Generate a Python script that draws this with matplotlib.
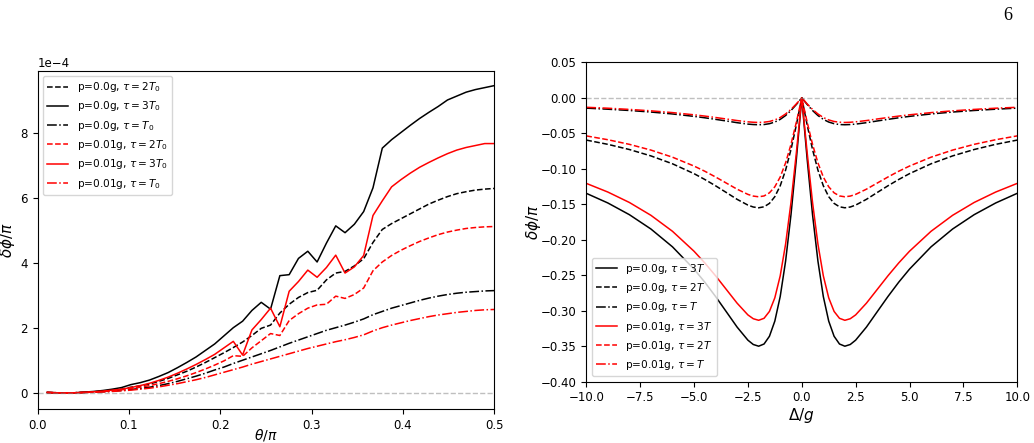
import numpy as np
import matplotlib
matplotlib.use("Agg")
import matplotlib.pyplot as plt

# ---- left panel: phase shift vs theta (units of 1e-4) ----
theta = np.linspace(0, 0.5, 50)[1:]

p0_2T0 = [0.01, 0.0, -0.01, 0.0, 0.01, 0.03, 0.05, 0.08, 0.11, 0.17,
          0.21, 0.27, 0.35, 0.44, 0.55, 0.66, 0.79, 0.93, 1.08, 1.23,
          1.39, 1.56, 1.76, 1.98, 2.08, 2.45, 2.72, 2.93, 3.08, 3.15,
          3.47, 3.68, 3.73, 3.90, 4.12, 4.62, 5.02, 5.20, 5.35, 5.50,
          5.65, 5.80, 5.92, 6.03, 6.12, 6.18, 6.23, 6.26, 6.28]
p0_3T0 = [0.01, 0.0, -0.01, 0.0, 0.02, 0.04, 0.07, 0.11, 0.16, 0.25,
          0.31, 0.39, 0.50, 0.62, 0.77, 0.93, 1.10, 1.30, 1.50, 1.75,
          2.00, 2.20, 2.53, 2.78, 2.57, 3.60, 3.63, 4.13, 4.35, 4.02,
          4.60, 5.13, 4.92, 5.18, 5.57, 6.30, 7.52, 7.78, 8.00, 8.22,
          8.43, 8.62, 8.80, 9.00, 9.12, 9.24, 9.32, 9.38, 9.44]
p0_T0 = [0.005, 0.0, -0.005, 0.0, 0.01, 0.02, 0.03, 0.05, 0.07, 0.10,
         0.13, 0.17, 0.22, 0.28, 0.35, 0.43, 0.51, 0.60, 0.70, 0.79,
         0.90, 1.00, 1.10, 1.20, 1.30, 1.41, 1.52, 1.62, 1.72, 1.82,
         1.92, 2.00, 2.08, 2.17, 2.27, 2.40, 2.50, 2.60, 2.68, 2.76,
         2.84, 2.91, 2.97, 3.02, 3.06, 3.09, 3.11, 3.13, 3.14]
p1_2T0 = [0.01, 0.0, -0.01, 0.0, 0.01, 0.02, 0.04, 0.06, 0.09, 0.13,
          0.17, 0.22, 0.28, 0.35, 0.43, 0.52, 0.62, 0.73, 0.85, 0.98,
          1.14, 1.12, 1.38, 1.60, 1.82, 1.76, 2.22, 2.43, 2.60, 2.70,
          2.72, 2.97, 2.90, 3.02, 3.22, 3.75, 4.02, 4.22, 4.38, 4.52,
          4.65, 4.76, 4.86, 4.94, 5.00, 5.05, 5.08, 5.10, 5.11]
p1_3T0 = [0.01, 0.0, -0.01, 0.0, 0.01, 0.03, 0.05, 0.08, 0.11, 0.16,
          0.22, 0.29, 0.38, 0.48, 0.60, 0.73, 0.87, 1.02, 1.18, 1.38,
          1.58, 1.16, 1.93, 2.25, 2.60, 2.03, 3.12, 3.42, 3.77, 3.55,
          3.85, 4.23, 3.68, 3.87, 4.22, 5.45, 5.90, 6.33, 6.55, 6.75,
          6.93, 7.08, 7.22, 7.35, 7.46, 7.54, 7.60, 7.66, 7.66]
p1_T0 = [0.005, 0.0, -0.005, 0.0, 0.01, 0.015, 0.025, 0.04, 0.06, 0.08,
         0.11, 0.14, 0.18, 0.23, 0.28, 0.34, 0.40, 0.47, 0.55, 0.63,
         0.71, 0.79, 0.88, 0.96, 1.04, 1.12, 1.20, 1.28, 1.36, 1.43,
         1.50, 1.57, 1.63, 1.70, 1.78, 1.90, 2.00, 2.08, 2.15, 2.22,
         2.28, 2.34, 2.39, 2.43, 2.47, 2.50, 2.53, 2.55, 2.56]

# ---- right panel: phase shift vs detuning (Delta >= 0 half, curves are symmetric) ----
d_half = [0, 0.25, 0.5, 0.75, 1, 1.25, 1.5, 1.75, 2, 2.25, 2.5, 3, 3.5, 4,
          4.5, 5, 6, 7, 8, 9, 10]
b_3T = [0, -0.0862, -0.1647, -0.2301, -0.28, -0.3146, -0.336, -0.3469, -0.35,
        -0.3476, -0.3415, -0.3231, -0.3015, -0.28, -0.2598, -0.2414, -0.21,
        -0.1849, -0.1647, -0.1482, -0.1346]
b_2T = [0, -0.0382, -0.0729, -0.1019, -0.124, -0.1393, -0.1488, -0.1536, -0.155,
        -0.1539, -0.1512, -0.1431, -0.1335, -0.124, -0.1151, -0.1069, -0.093,
        -0.0819, -0.0729, -0.0656, -0.0596]
b_T = [0, -0.0094, -0.0179, -0.025, -0.0304, -0.0342, -0.0365, -0.0377, -0.038,
       -0.0377, -0.0371, -0.0351, -0.0327, -0.0304, -0.0282, -0.0262, -0.0228,
       -0.0201, -0.0179, -0.0161, -0.0146]
r_3T = [0, -0.0772, -0.1475, -0.2061, -0.2508, -0.2818, -0.301, -0.3107, -0.3135,
        -0.3113, -0.3059, -0.2894, -0.2701, -0.2508, -0.2327, -0.2162, -0.1881,
        -0.1656, -0.1475, -0.1328, -0.1206]
r_2T = [0, -0.0343, -0.0656, -0.0917, -0.1116, -0.1254, -0.1339, -0.1383, -0.1395,
        -0.1385, -0.1361, -0.1288, -0.1202, -0.1116, -0.1035, -0.0962, -0.0837,
        -0.0737, -0.0656, -0.0591, -0.0537]
r_T = [0, -0.0086, -0.0164, -0.0228, -0.0278, -0.0312, -0.0334, -0.0344, -0.0348,
       -0.0345, -0.0339, -0.0321, -0.0299, -0.0278, -0.0258, -0.024, -0.0209,
       -0.0184, -0.0164, -0.0147, -0.0134]


def mirror(v):
    v = np.asarray(v, dtype=float)
    return np.concatenate([v[::-1], v[1:]])


delta = np.concatenate([-np.asarray(d_half[::-1], dtype=float), np.asarray(d_half[1:], dtype=float)])

plt.rcParams['font.size'] = 8.5
fig = plt.figure(figsize=(10.34, 4.43), dpi=100)

# left panel
ax1 = fig.add_axes([0.0365, 0.0767, 0.4413, 0.7637])
sc = 1e-4
ax1.plot(theta, np.array(p0_2T0) * sc, 'k--', lw=1.1, label=r'p=0.0g, $\tau=2T_0$')
ax1.plot(theta, np.array(p0_3T0) * sc, 'k-', lw=1.1, label=r'p=0.0g, $\tau=3T_0$')
ax1.plot(theta, np.array(p0_T0) * sc, 'k-.', lw=1.1, label=r'p=0.0g, $\tau=T_0$')
ax1.plot(theta, np.array(p1_2T0) * sc, 'r--', lw=1.1, label=r'p=0.01g, $\tau=2T_0$')
ax1.plot(theta, np.array(p1_3T0) * sc, 'r-', lw=1.1, label=r'p=0.01g, $\tau=3T_0$')
ax1.plot(theta, np.array(p1_T0) * sc, 'r-.', lw=1.1, label=r'p=0.01g, $\tau=T_0$')
ax1.axhline(0, color='grey', ls='--', lw=1, alpha=0.5)
ax1.set_xlim(0, 0.5)
ax1.set_ylim(-0.5e-4, 9.9e-4)
ax1.set_yticks(np.arange(0, 9e-4, 2e-4))
ax1.ticklabel_format(style='sci', axis='y', scilimits=(0, 0))
ax1.set_xlabel(r'$\theta/\pi$', fontsize=10)
ax1.set_ylabel(r'$\delta\phi/\pi$', fontsize=11)
ax1.xaxis.set_label_coords(0.5, -0.053)
ax1.yaxis.set_label_coords(-0.045, 0.5)
ax1.legend(loc='upper left', fontsize=7.6)

# right panel
ax2 = fig.add_axes([0.567, 0.1384, 0.4168, 0.721])
ax2.plot(delta, mirror(b_3T), 'k-', lw=1.1, label=r'p=0.0g, $\tau=3T$')
ax2.plot(delta, mirror(b_2T), 'k--', lw=1.1, label=r'p=0.0g, $\tau=2T$')
ax2.plot(delta, mirror(b_T), 'k-.', lw=1.1, label=r'p=0.0g, $\tau=T$')
ax2.plot(delta, mirror(r_3T), 'r-', lw=1.1, label=r'p=0.01g, $\tau=3T$')
ax2.plot(delta, mirror(r_2T), 'r--', lw=1.1, label=r'p=0.01g, $\tau=2T$')
ax2.plot(delta, mirror(r_T), 'r-.', lw=1.1, label=r'p=0.01g, $\tau=T$')
ax2.axhline(0, color='grey', ls='--', lw=1, alpha=0.5)
ax2.set_xlim(-10, 10)
ax2.set_ylim(-0.40, 0.05)
ax2.set_yticks(np.arange(-0.40, 0.051, 0.05))
ax2.set_xlabel(r'$\Delta/g$', fontsize=11)
ax2.set_ylabel(r'$\delta\phi/\pi$', fontsize=11)
ax2.xaxis.set_label_coords(0.5, -0.075)
ax2.yaxis.set_label_coords(-0.1, 0.5)
ax2.legend(loc='lower left', fontsize=7.6)

# page number
fig.text(0.975, 0.965, '6', family='Liberation Serif', fontsize=13, ha='center', va='center')

fig.savefig('out.png', dpi=100)
